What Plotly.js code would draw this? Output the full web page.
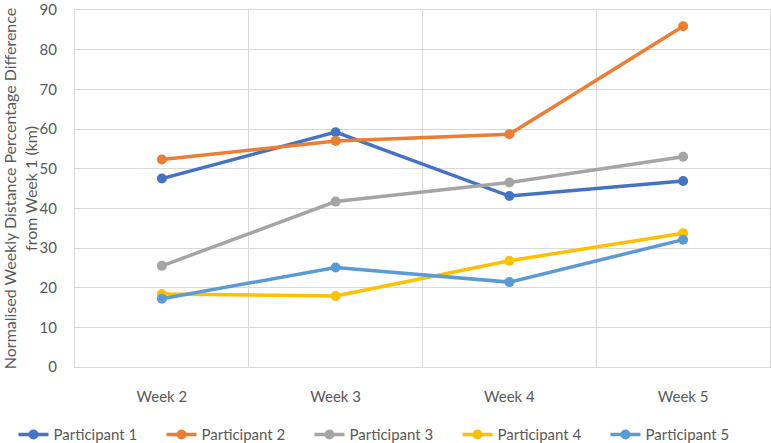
<!DOCTYPE html>
<html>
<head>
<meta charset="utf-8">
<script src="https://cdn.plot.ly/plotly-3.0.1.min.js"></script>
<style>html,body{margin:0;padding:0;background:#fff;}#chart{width:771px;height:443px;}</style>
</head>
<body>
<div id="chart"></div>
<script>
const weeks = ["Week 2", "Week 3", "Week 4", "Week 5"];
const participantNames = ["Participant 1", "Participant 2", "Participant 3", "Participant 4", "Participant 5"];
const participant1 = [47.5, 59.2, 43.1, 46.9];
const participant2 = [52.3, 57.0, 58.7, 85.9];
const participant3 = [25.5, 41.7, 46.5, 53.0];
const participant4 = [18.4, 17.9, 26.8, 33.7];
const participant5 = [17.2, 25.1, 21.4, 32.1];
const colors = ["#4472C4", "#ED7D31", "#A5A5A5", "#FFC000", "#5B9BD5"];

const series = [participant1, participant2, participant3, participant4, participant5];
const font = "Lato, 'Open Sans', sans-serif";
const txt = "#595959";
const grid = "#d9d9d9";
const traces = series.map((ys, i) => ({
  type: "scatter",
  mode: "lines+markers",
  x: weeks,
  y: ys,
  name: participantNames[i],
  line: {color: colors[i], width: 3.5},
  marker: {color: colors[i], size: 10}
}));

const layout = {
  width: 771, height: 443,
  margin: {l: 75, r: 1, t: 10, b: 76, autoexpand: false},
  paper_bgcolor: "#fff", plot_bgcolor: "#fff",
  font: {family: font, size: 15, color: txt},
  showlegend: true,
  legend: {orientation: "h", x: -0.0885, xanchor: "left",
           y: -0.19, yanchor: "middle",
           entrywidth: 103, font: {size: 15, color: txt}},
  xaxis: {
    type: "category",
    range: [-0.5, 3.5],
    tickson: "boundaries",
    showgrid: true, gridcolor: grid, gridwidth: 1,
    showline: true, mirror: true, linecolor: grid, linewidth: 1,
    zeroline: false,
    ticks: "", ticklabelstandoff: 16,
    tickfont: {size: 15, color: txt}
  },
  yaxis: {
    range: [0, 90], dtick: 10, tick0: 0,
    ticklabeloverflow: "allow",
    showgrid: true, gridcolor: grid, gridwidth: 1,
    showline: true, mirror: true, linecolor: grid, linewidth: 1,
    zeroline: false, ticks: "", ticklabelstandoff: 14,
    tickfont: {size: 15, color: txt},
    title: {text: "Normalised Weekly Distance Percentage Difference<br>from Week 1 (km)",
            font: {size: 16, color: txt}, standoff: 10}
  }
};

Plotly.newPlot("chart", traces, layout, {displayModeBar: false, staticPlot: true});
</script>
</body>
</html>
